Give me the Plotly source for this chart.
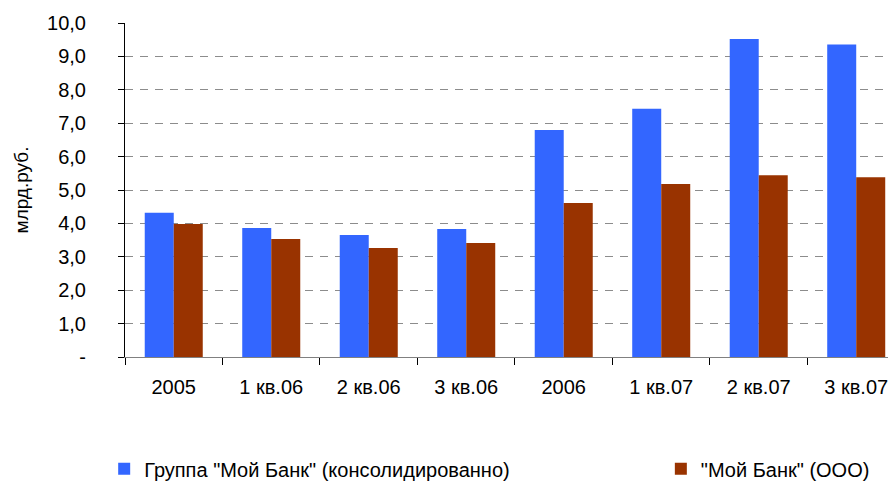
import plotly.graph_objects as go

categories = ["2005", "1 кв.06", "2 кв.06", "3 кв.06", "2006", "1 кв.07", "2 кв.07", "3 кв.07"]
group_values = [4.32, 3.86, 3.65, 3.83, 6.80, 7.43, 9.52, 9.36]
bank_values = [3.98, 3.53, 3.26, 3.41, 4.61, 5.18, 5.44, 5.38]
ytick_vals = [0, 1, 2, 3, 4, 5, 6, 7, 8, 9, 10]
ytick_text = ["-", "1,0", "2,0", "3,0", "4,0", "5,0", "6,0", "7,0", "8,0", "9,0", "10,0"]

font = "Liberation Sans, Arial, sans-serif"

fig = go.Figure()
fig.add_trace(go.Bar(x=categories, y=group_values, name='Группа "Мой Банк" (консолидированно)',
                     marker=dict(color="#3366FF", line=dict(width=0)), legend="legend"))
fig.add_trace(go.Bar(x=categories, y=bank_values, name='"Мой Банк" (ООО)',
                     marker=dict(color="#993300", line=dict(width=0)), legend="legend2"))

fig.update_layout(
    width=888, height=475,
    margin=dict(l=117, r=0, t=15, b=126),
    paper_bgcolor="white", plot_bgcolor="white",
    barmode="group", bargap=0.405, bargroupgap=0,
    font=dict(family=font, size=20, color="black"),
    showlegend=True,
    legend=dict(orientation="h", x=-0.027, xanchor="left", xref="paper",
                y=0.03, yanchor="middle", yref="container",
                font=dict(size=20), bgcolor="rgba(0,0,0,0)"),
    legend2=dict(orientation="h", x=0.695, xanchor="left", xref="paper",
                 y=0.03, yanchor="middle", yref="container",
                 font=dict(size=20), bgcolor="rgba(0,0,0,0)"),
    xaxis=dict(type="category", range=[-0.5, 7.408], tickson="boundaries",
               ticks="outside", ticklen=7, tickcolor="black",
               showline=True, linecolor="#808080", linewidth=1,
               showgrid=False, tickfont=dict(size=20), ticklabelstandoff=12),
    yaxis=dict(range=[0, 10], tickvals=ytick_vals, ticktext=ytick_text,
               ticks="outside", ticklen=6, tickcolor="black",
               showline=True, linecolor="black", linewidth=1,
               showgrid=True, gridcolor="#8c8c8c", griddash="8px,7px", gridwidth=1,
               zeroline=False, tickfont=dict(size=20), ticklabelstandoff=28,
               title=dict(text="млрд.руб.", font=dict(size=19), standoff=13)),
)

fig.write_html("out.html")
